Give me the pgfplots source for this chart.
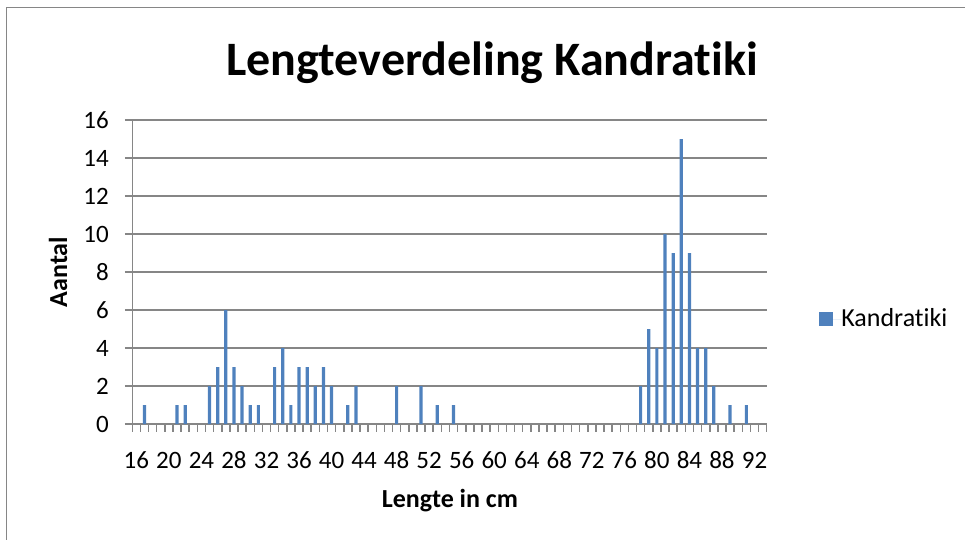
\documentclass[border=0pt]{standalone}
\usepackage{fontspec}
\setmainfont{Carlito}[Ligatures=NoCommon]
\usepackage{pgfplots}
\pgfplotsset{compat=1.18}
\definecolor{barblue}{HTML}{4F81BD}
\definecolor{gridgray}{HTML}{868686}
\begin{document}
\begin{tikzpicture}
\path[use as bounding box] (0,0) rectangle (482.5pt,-270pt);
\draw[gridgray, line width=0.75pt] (3.25pt,-272pt) -- (3.25pt,-3.75pt) -- (484pt,-3.75pt);
\begin{axis}[
  at={(66.15pt,-212pt)}, anchor=south west,
  scale only axis, width=317.2pt, height=152pt,
  xmin=15.5, xmax=93.5, ymin=0, ymax=16,
  axis lines*=left,
  axis line style={gridgray, line width=0.75pt},
  ybar, bar width=1.6pt,
  xtick={16,20,...,92},
  minor xtick={15.5,16.5,...,93.5},
  ytick={0,2,...,16},
  minor ytick={0,2,...,16},
  ymajorgrids, xmajorgrids=false,
  grid style={gridgray, line width=0.75pt},
  tick align=outside, major tick length=0pt, minor tick length=3.75pt,
  tick style={gridgray, line width=0.75pt},
  /pgf/number format/assume math mode=true,
  tick label style={font=\fontsize{12.5}{15}\selectfont},
  xticklabel style={anchor=base, yshift=-22pt},
  yticklabel style={anchor=east, xshift=-8.2pt},
  title={Lengteverdeling Kandratiki},
  title style={at={(0.567,1.148)}, anchor=base, yshift=-6pt, font=\fontsize{24}{29}\selectfont\bfseries},
  xlabel={Lengte in cm},
  xlabel style={at={(0.5007,-0.276)}, anchor=base, font=\fontsize{13}{16}\selectfont\bfseries},
  ylabel={Aantal},
  ylabel style={at={(-0.117,0.5)}, anchor=center, font=\fontsize{13}{16}\selectfont\bfseries},
  legend style={at={(1.0824,0.344)}, anchor=west, draw=none, fill=none,
    font=\fontsize{13}{16}\selectfont, inner sep=0pt,
    nodes={inner sep=0pt}},
]
\addplot[fill=barblue, draw=none,
  legend image code/.code={\path (0pt,0pt) -- (11pt,0pt); \fill[barblue] (0pt,-3.5pt) rectangle (7pt,3.5pt);}]
coordinates {
(17,1) (21,1) (22,1) (25,2) (26,3) (27,6) (28,3) (29,2) (30,1) (31,1)
(33,3) (34,4) (35,1) (36,3) (37,3) (38,2) (39,3) (40,2) (42,1) (43,2)
(48,2) (51,2) (53,1) (55,1)
(78,2) (79,5) (80,4) (81,10) (82,9) (83,15) (84,9) (85,4) (86,4) (87,2)
(89,1) (91,1)
};
\legend{Kandratiki}
\end{axis}
\end{tikzpicture}
\end{document}
